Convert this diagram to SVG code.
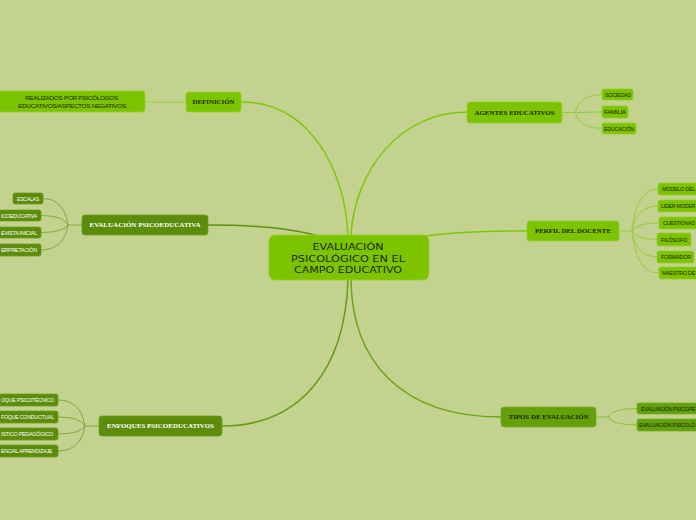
<svg xmlns="http://www.w3.org/2000/svg" width="696" height="520" viewBox="0 0 696 520">
<style>
.bg{fill:#c3d28e}
.bright{fill:#7dc400;stroke:#93cf2c;stroke-width:0.8}
.dark{fill:#5b8c0a;stroke:#6f9c22;stroke-width:0.8}
.mid{fill:#63a00c;stroke:#78ae24;stroke-width:0.8}
.main{font-family:"DejaVu Sans","Liberation Sans",sans-serif;font-size:9px;fill:#1a2600;text-anchor:middle}
.l1{font-family:"Liberation Serif","DejaVu Serif",serif;font-size:6.5px;font-weight:bold;text-anchor:middle}
.l1d{fill:#1a2600}
.l1w{fill:#ffffff}
.c{font-family:"Liberation Sans",Arial,sans-serif;font-size:6px;letter-spacing:-0.3px}
.cd{fill:#1a2600}
.cw{fill:#ffffff}
.conn{fill:none;stroke-linecap:round}
.cb{stroke:#7ec80a;stroke-width:1.5}
.cdk{stroke:#5e8f10;stroke-width:1.5}
.cen{stroke:#669b12;stroke-width:1.5}
.cti{stroke:#6ea616;stroke-width:1.5}
.sb{stroke:#93ce3a;stroke-width:1}
.sd{stroke:#86a93c;stroke-width:1}
.sm{stroke:#8cbf3a;stroke-width:1}
</style>
<rect class="bg" x="0" y="0" width="696" height="520"/>

<g id="connectors">
  <path class="conn cb" d="M241,102 C310,102 345,170 348,235"/>
  <path class="conn cb" d="M467,112 C400,112 355,170 351,235"/>
  <path class="conn cb" d="M527,231 C490,231 455,232 426,236"/>
  <path class="conn cdk" d="M208,225 C250,225 290,228 318,236"/>
  <path class="conn cen" d="M348,280 C345,370 300,426 222,426"/>
  <path class="conn cti" d="M351,280 C352,360 400,417 501,417"/>
  <path class="conn sb" d="M145,102 L186,102"/>
  <path class="conn sb" d="M562,112.5 L575,112.5 M575,112.5 Q579,94.5 602,94.5 M575,112.5 L602,112 M575,112.5 Q579,128.5 602,128.5"/>
  <path class="conn sb" d="M619,231 L632,231 M632,231 Q636,189 658,189 M632,231 Q636,206 658,206 M632,231 Q636,223 658,223 M632,231 Q636,239.5 657,239.5 M632,231 Q636,257 657,257 M632,231 Q636,273 658,273"/>
  <path class="conn sm" d="M596,417 L608,417 M608,417 Q612,408.5 637,408.5 M608,417 Q612,425 637,425"/>
  <path class="conn sd" d="M82,225 L68,225 M68,225 Q64,198.5 43,198.5 M68,225 Q64,215.5 41,215.5 M68,225 Q64,232.5 41,232.5 M68,225 Q64,250 41,250"/>
  <path class="conn sd" d="M99,426 L85,426 M85,426 Q81,400 58,400 M85,426 Q81,417 58,417 M85,426 Q81,434 58,434 M85,426 Q81,451 58,451"/>
</g>

<g id="center">
  <rect class="bright" x="269" y="235" width="160" height="45" rx="6"/>
  <text class="main" x="348" y="250" textLength="71" lengthAdjust="spacingAndGlyphs">EVALUACIÓN</text>
  <text class="main" x="348" y="261.5" textLength="114" lengthAdjust="spacingAndGlyphs">PSICOLÓGICO EN EL</text>
  <text class="main" x="348" y="273" textLength="108" lengthAdjust="spacingAndGlyphs">CAMPO EDUCATIVO</text>
</g>

<g id="definicion">
  <rect class="bright" x="186" y="92" width="55" height="20" rx="3"/>
  <text class="l1 l1d" x="213.5" y="104.3" textLength="42" lengthAdjust="spacingAndGlyphs">DEFINICIÓN</text>
</g>
<g id="realizados">
  <rect class="bright" x="-5" y="91" width="150" height="21" rx="3"/>
  <text class="c cd" x="71.5" y="99.5" text-anchor="middle" textLength="93" lengthAdjust="spacingAndGlyphs">REALIZADOS POR PSICÓLOGOS</text>
  <text class="c cd" x="72" y="107.7" text-anchor="middle" textLength="108" lengthAdjust="spacingAndGlyphs">EDUCATIVOS/ASPECTOS NEGATIVOS</text>
</g>

<g id="agentes">
  <rect class="bright" x="467" y="102" width="95" height="21" rx="3"/>
  <text class="l1 l1d" x="514.5" y="114.8" textLength="80" lengthAdjust="spacingAndGlyphs">AGENTES EDUCATIVOS</text>
</g>
<g id="sociedad">
  <rect class="bright" x="602" y="89" width="31" height="11" rx="2"/>
  <text class="c cd" x="605" y="96.6" textLength="26" lengthAdjust="spacingAndGlyphs">SOCIEDAD</text>
</g>
<g id="familia">
  <rect class="bright" x="602" y="106" width="26" height="12" rx="2"/>
  <text class="c cd" x="604" y="114.2" textLength="22" lengthAdjust="spacingAndGlyphs">FAMILIA</text>
</g>
<g id="educacion">
  <rect class="bright" x="602" y="123" width="34" height="11" rx="2"/>
  <text class="c cd" x="604" y="130.8" textLength="30" lengthAdjust="spacingAndGlyphs">EDUCACIÓN</text>
</g>

<g id="perfil">
  <rect class="bright" x="527" y="221" width="92" height="20" rx="3"/>
  <text class="l1 l1d" x="573" y="233.3" textLength="76" lengthAdjust="spacingAndGlyphs">PERFIL DEL DOCENTE</text>
</g>
<g id="modelo">
  <rect class="bright" x="658" y="183" width="50" height="12" rx="2"/>
  <text class="c cd" x="662" y="191.2" textLength="33" lengthAdjust="spacingAndGlyphs">MODELO DEL</text>
</g>
<g id="lider">
  <rect class="bright" x="658" y="200" width="50" height="12" rx="2"/>
  <text class="c cd" x="661" y="208.2" textLength="34" lengthAdjust="spacingAndGlyphs">LIDER MODER</text>
</g>
<g id="cuestionador">
  <rect class="bright" x="659" y="217" width="50" height="12" rx="2"/>
  <text class="c cd" x="663" y="225.2" textLength="32" lengthAdjust="spacingAndGlyphs">CUESTIONAD</text>
</g>
<g id="filosofo">
  <rect class="bright" x="657" y="233" width="34" height="13" rx="2"/>
  <text class="c cd" x="661" y="241.8" textLength="26" lengthAdjust="spacingAndGlyphs">FILÓSOFO</text>
</g>
<g id="formador">
  <rect class="bright" x="657" y="251" width="37" height="12" rx="2"/>
  <text class="c cd" x="661" y="259.2" textLength="30" lengthAdjust="spacingAndGlyphs">FORMADOR</text>
</g>
<g id="maestro">
  <rect class="bright" x="659" y="267" width="50" height="12" rx="2"/>
  <text class="c cd" x="662" y="275.2" textLength="33" lengthAdjust="spacingAndGlyphs">MAESTRO DE</text>
</g>

<g id="tipos">
  <rect class="mid" x="501" y="407" width="95" height="20" rx="3"/>
  <text class="l1 l1d" x="548.5" y="419.3" textLength="80" lengthAdjust="spacingAndGlyphs">TIPOS DE EVALUACIÓN</text>
</g>
<g id="tipo1">
  <rect class="mid" x="637" y="403" width="70" height="11" rx="2"/>
  <text class="c cd" x="641" y="410.8" textLength="54" lengthAdjust="spacingAndGlyphs">EVALUACIÓN PSICOPE</text>
</g>
<g id="tipo2">
  <rect class="mid" x="637" y="419" width="70" height="12" rx="2"/>
  <text class="c cd" x="639" y="427.2" textLength="56" lengthAdjust="spacingAndGlyphs">EVALUACIÓN PSICOLÓ</text>
</g>

<g id="evalpsico">
  <rect class="dark" x="82" y="215" width="126" height="20" rx="3"/>
  <text class="l1 l1w" x="145" y="227.3" textLength="111" lengthAdjust="spacingAndGlyphs">EVALUACIÓN PSICOEDUCATIVA</text>
</g>
<g id="escalas">
  <rect class="dark" x="13" y="193" width="30" height="11" rx="2"/>
  <text class="c cw" x="28" y="200.8" text-anchor="middle" textLength="22" lengthAdjust="spacingAndGlyphs">ESCALAS</text>
</g>
<g id="psicoeducativa">
  <rect class="dark" x="-10" y="210" width="51" height="11" rx="2"/>
  <text class="c cw" x="1" y="217.8" textLength="36" lengthAdjust="spacingAndGlyphs">ICOEDUCATIVA</text>
</g>
<g id="entrevista">
  <rect class="dark" x="-10" y="227" width="51" height="11" rx="2"/>
  <text class="c cw" x="1" y="234.8" textLength="36" lengthAdjust="spacingAndGlyphs">EVISTA INICIAL</text>
</g>
<g id="interpretacion">
  <rect class="dark" x="-10" y="244" width="51" height="12" rx="2"/>
  <text class="c cw" x="1" y="252.2" textLength="36" lengthAdjust="spacingAndGlyphs">ERPRETACIÓN</text>
</g>

<g id="enfoques">
  <rect class="dark" x="99" y="416" width="123" height="20" rx="3"/>
  <text class="l1 l1w" x="160.5" y="428.3" textLength="107" lengthAdjust="spacingAndGlyphs">ENFOQUES PSICOEDUCATIVOS</text>
</g>
<g id="enf1">
  <rect class="dark" x="-10" y="394" width="68" height="12" rx="2"/>
  <text class="c cw" x="1" y="402.2" textLength="53" lengthAdjust="spacingAndGlyphs">OQUE PSICOTÉCNICO</text>
</g>
<g id="enf2">
  <rect class="dark" x="-10" y="411" width="68" height="12" rx="2"/>
  <text class="c cw" x="1" y="419.2" textLength="53" lengthAdjust="spacingAndGlyphs">FOQUE CONDUCTUAL</text>
</g>
<g id="enf3">
  <rect class="dark" x="-10" y="428" width="68" height="12" rx="2"/>
  <text class="c cw" x="1" y="436.2" textLength="52" lengthAdjust="spacingAndGlyphs">ISTICO PEDAGÓGICO</text>
</g>
<g id="enf4">
  <rect class="dark" x="-10" y="445" width="68" height="12" rx="2"/>
  <text class="c cw" x="1" y="453.2" textLength="51" lengthAdjust="spacingAndGlyphs">ENCIAL APRENDIZAJE</text>
</g>
</svg>
